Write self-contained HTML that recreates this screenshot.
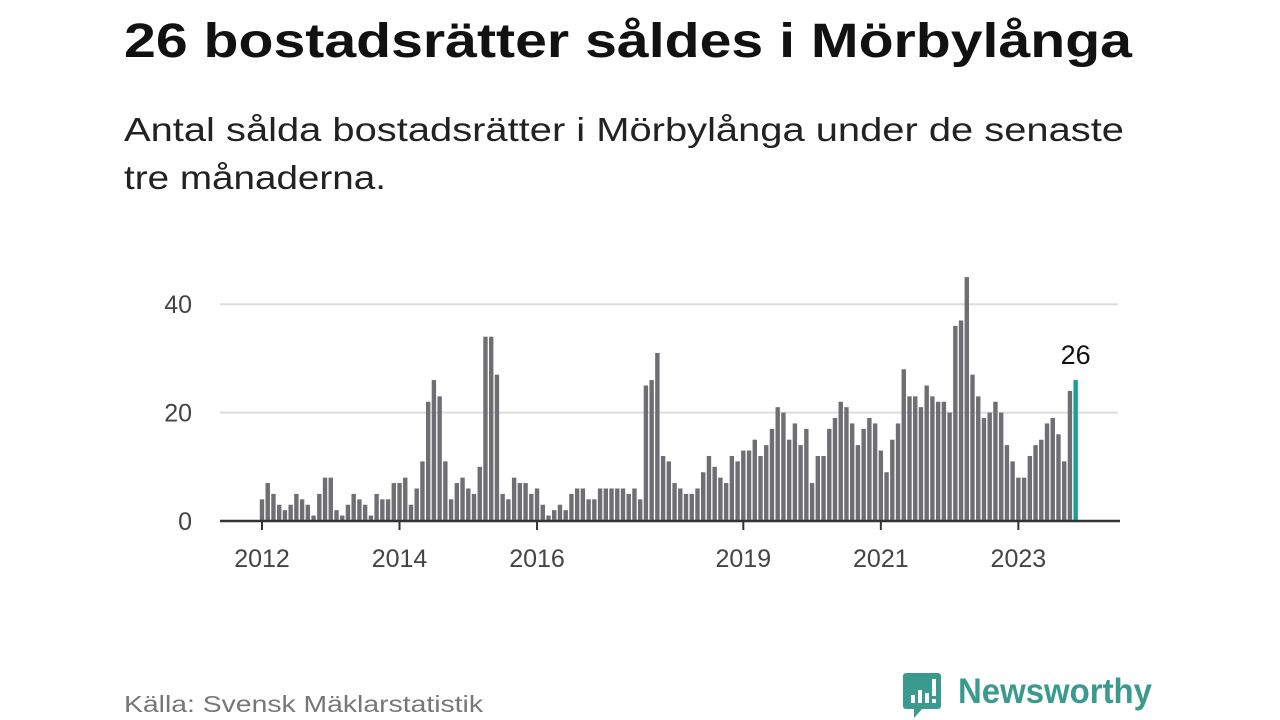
<!DOCTYPE html>
<html><head><meta charset="utf-8"><style>
html,body{margin:0;padding:0;background:#fff;}
svg{display:block;font-family:"Liberation Sans",sans-serif;}
</style></head><body>
<svg id="chart" width="1280" height="720" viewBox="0 0 1280 720">
<text x="124" y="57" font-size="48" font-weight="bold" fill="#111" textLength="1008" lengthAdjust="spacingAndGlyphs">26 bostadsrätter såldes i Mörbylånga</text>
<text x="124" y="141" font-size="33" fill="#222" textLength="1000" lengthAdjust="spacingAndGlyphs">Antal sålda bostadsrätter i Mörbylånga under de senaste</text>
<text x="124" y="189" font-size="33" fill="#222" textLength="262" lengthAdjust="spacingAndGlyphs">tre månaderna.</text>
<g id="grid"></g>
<g id="bars"></g>
<g id="axes"></g>
<text x="124" y="712" font-size="23" fill="#777" textLength="359" lengthAdjust="spacingAndGlyphs">Källa: Svensk Mäklarstatistik</text>
<g>
<path d="M906 673 h32 a3 3 0 0 1 3 3 v30 a3 3 0 0 1 -3 3 h-16 l-8 9 v-9 h-8 a3 3 0 0 1 -3 -3 v-30 a3 3 0 0 1 3 -3z" fill="#3a9a8e"/>
<rect x="911" y="695" width="4" height="8" fill="#fff"/><rect x="918" y="690" width="4" height="13" fill="#fff"/><rect x="925" y="693" width="4" height="10" fill="#fff"/><rect x="932" y="679" width="4" height="17" fill="#fff"/><rect x="932" y="699" width="4" height="4" fill="#fff"/>
<text x="958" y="703" font-size="35" font-weight="bold" fill="#3a9a8e" textLength="194" lengthAdjust="spacingAndGlyphs">Newsworthy</text>
</g>
</svg>
<script>
const values = [4,7,5,3,2,3,5,4,3,1,5,8, 8,2,1,3,5,4,3,1,5,4,4,7, 7,8,3,6,11,22,26,23,11,4,7,8, 6,5,10,34,34,27,5,4,8,7,7,5, 6,3,1,2,3,2,5,6,6,4,4,6, 6,6,6,6,5,6,4,25,26,31,12,11, 7,6,5,5,6,9,12,10,8,7,12,11, 13,13,15,12,14,17,21,20,15,18,14,17, 7,12,12,17,19,22,21,18, 14,17,19,18,13,9,15,18,28,23,23,21, 25,23,22,22,20,36,37,45,27,23,19,20, 22,20,14,11,8,8,12,14,15,18,19,16, 11,24,26];
const yTicks = [0,20,40];
const xTickYears = [2012,2014,2016,2019,2021,2023];
const startYear = 2012;
const NS='http://www.w3.org/2000/svg';
const x0=262, pxPerMonth=5.73, y0=521, pxPerUnit=5.42;
const xS = m => x0 + m*pxPerMonth;
const yS = v => y0 - v*pxPerUnit;
function mk(tag, attrs, parent){const e=document.createElementNS(NS,tag);for(const k in attrs)e.setAttribute(k,attrs[k]);parent.appendChild(e);return e;}
const grid=document.getElementById('grid'), bars=document.getElementById('bars'), axes=document.getElementById('axes');
yTicks.forEach(t=>{
  if(t>0){const l=mk('line',{x1:220,x2:1118,y1:yS(t),y2:yS(t),stroke:'#ddd','stroke-width':2},grid);
  
  }
  const tx=mk('text',{x:192,y:yS(t)+9,'font-size':25,fill:'#444','text-anchor':'end'},grid);
  tx.textContent=t;
  
  
});
const last=values.length-1;
values.forEach((v,i)=>{
  const r=mk('rect',{x:xS(i)-2.2,y:yS(v),width:4.4,height:v*pxPerUnit,fill:i===last?'#1a9e96':'#6f6e72'},bars);
  
  
});
const lab=mk('text',{x:xS(last),y:yS(values[last])-16,'font-size':27,fill:'#111','text-anchor':'middle'},bars);
lab.textContent=values[last];


const ax=mk('line',{x1:220,x2:1120,y1:y0,y2:y0,stroke:'#333','stroke-width':2.5},axes);


xTickYears.forEach(yr=>{
  const x=xS((yr-startYear)*12);
  const tk=mk('line',{x1:x,x2:x,y1:y0,y2:y0+9,stroke:'#333','stroke-width':2},axes);
  
  
  const t=mk('text',{x:x,y:567,'font-size':25,fill:'#444','text-anchor':'middle'},axes);
  t.textContent=yr;
  
  
});
</script>
</body></html>
